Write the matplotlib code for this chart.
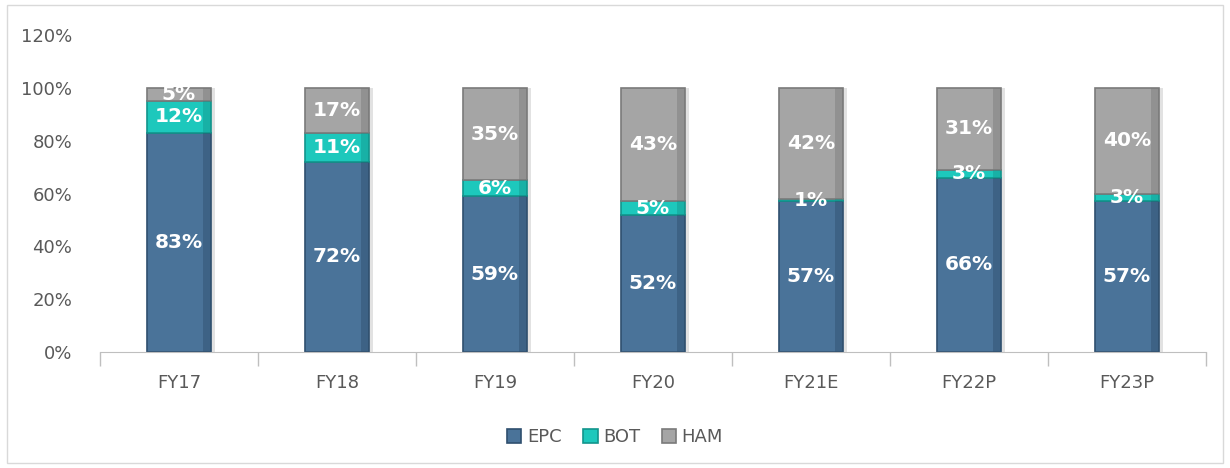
import numpy as np
import matplotlib
matplotlib.use('Agg')
import matplotlib.pyplot as plt
import matplotlib.ticker as mtk
from matplotlib.patches import Rectangle

years = ['FY17', 'FY18', 'FY19', 'FY20', 'FY21E', 'FY22P', 'FY23P']
epc = [83, 72, 59, 52, 57, 66, 57]
bot = [12, 11, 6, 5, 1, 3, 3]
ham = [5, 17, 35, 43, 42, 31, 40]

series = [('EPC', epc, '#4a7399', '#2f4f6e'),
          ('BOT', bot, '#1dc8bc', '#12958c'),
          ('HAM', ham, '#a5a5a5', '#7a7a7a')]

fig = plt.figure(figsize=(12.3, 4.68), dpi=100)
ax = fig.add_axes([0.0813, 0.248, 0.899, 0.677])

x = np.arange(len(years))
bottom = np.zeros(len(years))
w = 0.405
handles = []
for name, vals, col, dark in series:
    vals = np.array(vals, dtype=float)
    # soft shadow to the right, then the bar with a darker rim
    ax.bar(x + 0.025, vals, w, bottom=bottom, color='#cfcfcf', alpha=0.6, zorder=1)
    b = ax.bar(x, vals, w, bottom=bottom, color=col, edgecolor=dark, linewidth=1.2,
               zorder=2, label=name)
    ax.bar(x + w * 0.44, vals, w * 0.12, bottom=bottom, color=dark, alpha=0.45,
           linewidth=0, zorder=3)
    handles.append(b)
    for xi, v, b0 in zip(x, vals, bottom):
        ax.text(xi, b0 + v / 2, f'{int(v)}%', ha='center', va='center', color='white',
                fontsize=14.5, fontweight='bold', zorder=5)
    bottom += vals

ax.set_xlim(-0.5, len(years) - 0.5)
ax.set_ylim(0, 120)
ax.yaxis.set_major_locator(mtk.MultipleLocator(20))
ax.yaxis.set_major_formatter(mtk.PercentFormatter(100, decimals=0))
ax.set_xticks(x)
ax.set_xticklabels(years)
ax.set_xticks(np.arange(-0.5, len(years)), minor=True)
ax.tick_params(axis='x', which='major', length=0, pad=16, labelsize=13, labelcolor='#595959')
ax.tick_params(axis='x', which='minor', length=10, color='#bfbfbf', width=1)
ax.tick_params(axis='y', length=0, labelsize=13, labelcolor='#595959', pad=20)
for s in ['top', 'right', 'left']:
    ax.spines[s].set_visible(False)
ax.spines['bottom'].set_color('#bfbfbf')

fig.legend(handles=handles, labels=['EPC', 'BOT', 'HAM'], loc='lower center',
           bbox_to_anchor=(0.5, 0.012), ncol=3, frameon=False, fontsize=13,
           handlelength=0.8, handleheight=0.8, handletextpad=0.3, columnspacing=1.2,
           labelcolor='#595959')

fig.patches.append(Rectangle((0.006, 0.01), 0.988, 0.98, transform=fig.transFigure,
                             fill=False, edgecolor='#d9d9d9', linewidth=1))

fig.savefig('out.png', dpi=100)
